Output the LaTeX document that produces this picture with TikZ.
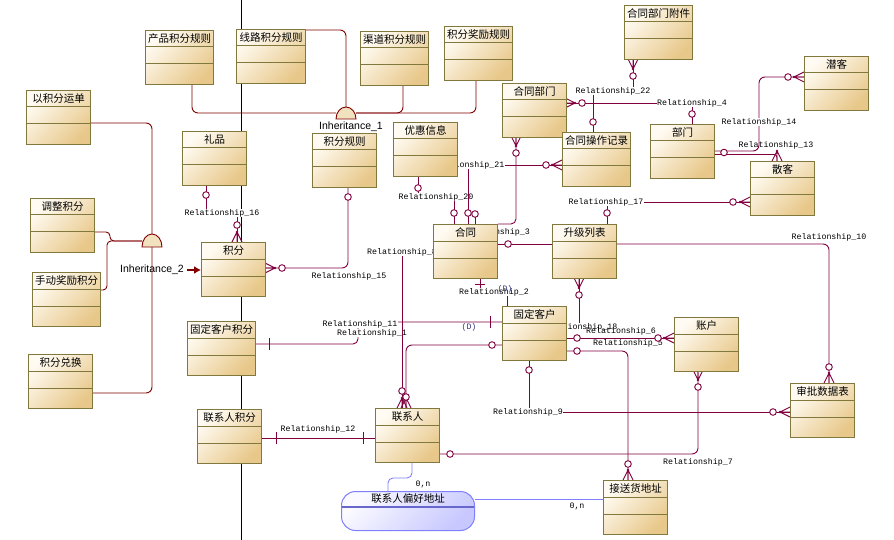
\documentclass[tikz,border=0pt]{standalone}
\usepackage{fontspec}
\setmainfont{Liberation Sans}
\newfontfamily\cjkfont{Noto Sans CJK SC}
\newfontfamily\relfont{Liberation Mono}
\usetikzlibrary{arrows.meta}
\definecolor{relc}{RGB}{128,0,64}
\definecolor{inhc}{RGB}{128,0,0}
\definecolor{boxedge}{RGB}{128,120,60}
\definecolor{boxlight}{RGB}{255,251,242}
\definecolor{boxdark}{RGB}{232,200,138}
\definecolor{blinkc}{RGB}{128,128,255}
\definecolor{pilllight}{RGB}{250,250,255}
\definecolor{pilldark}{RGB}{200,200,255}
\definecolor{dmark}{RGB}{50,50,120}
\pgfdeclarelayer{back}
\pgfdeclarelayer{links}
\pgfsetlayers{back,links,main}
\newcommand{\entitybox}[5][64]{%
  \node[entity, minimum width=#1pt] (#2) at (#3,#4) {};
  \draw[boxedge, line width=1pt] ([yshift=-17pt]#2.north west) -- ([yshift=-17pt]#2.north east);
  \draw[boxedge, line width=1pt] ([yshift=-34pt]#2.north west) -- ([yshift=-34pt]#2.north east);
  \node[entity title] (#2t) at ([yshift=-8.5pt]#2.north) {#5};}
\newcommand{\optc}[2]{\draw[rel, fill=white] (#1,#2) circle (3.3);}
\newcommand{\crowtop}[2]{\draw[rel] (#1,#2-10) -- (#1-5,#2) (#1,#2-10) -- (#1,#2) (#1,#2-10) -- (#1+5,#2); \fill[relc] (#1,#2-10) circle (1.3);}
\newcommand{\crowbottom}[2]{\draw[rel] (#1,#2+10) -- (#1-5,#2) (#1,#2+10) -- (#1,#2) (#1,#2+10) -- (#1+5,#2); \fill[relc] (#1,#2+10) circle (1.3);}
\newcommand{\crowleft}[2]{\draw[rel] (#1-10,#2) -- (#1,#2-5) (#1-10,#2) -- (#1,#2) (#1-10,#2) -- (#1,#2+5); \fill[relc] (#1-10,#2) circle (1.3);}
\newcommand{\crowright}[2]{\draw[rel] (#1+10,#2) -- (#1,#2-5) (#1+10,#2) -- (#1,#2) (#1+10,#2) -- (#1,#2+5); \fill[relc] (#1+10,#2) circle (1.3);}
\newcommand{\tickv}[2]{\draw[rel] (#1,#2-6) -- (#1,#2+6);}
\newcommand{\tickh}[2]{\draw[rel] (#1-5,#2) -- (#1+5,#2);}

\begin{document}
\begin{tikzpicture}[x=1pt,y=-1pt,
  rel/.style={draw=relc, line width=0.9pt},
  inh/.style={draw=inhc, line width=0.9pt},
  blink/.style={draw=blinkc, line width=0.9pt},
  entity/.style={draw=boxedge, line width=1pt, top color=boxlight, bottom color=boxdark, shading angle=45,
    minimum height=54pt, inner sep=0pt, anchor=north west},
  entity title/.style={font=\cjkfont\fontsize{10.5}{12}\selectfont, inner sep=0pt},
  rlabel/.style={font=\relfont\fontsize{8.3}{9}\selectfont, fill=white, inner sep=0.6pt},
  rlabel bare/.style={font=\relfont\fontsize{8.3}{9}\selectfont, inner sep=0.6pt},
  inhlabel/.style={font=\fontsize{10.5}{12}\selectfont, inner sep=0pt},
  dlabel/.style={font=\relfont\fontsize{8.3}{9}\selectfont, text=dmark, inner sep=0pt}]
\useasboundingbox (0,0) rectangle (894,540);

\entitybox[68]{cpgz}{145}{30}{产品积分规则}
\entitybox[69]{xlgz}{236}{29}{线路积分规则}
\entitybox[68]{qdgz}{360}{31}{渠道积分规则}
\entitybox[68]{jlgz}{444}{26}{积分奖励规则}
\entitybox{ydan}{26}{90}{以积分运单}
\entitybox{lipin}{182}{131}{礼品}
\entitybox{jfgz}{312}{133}{积分规则}
\entitybox{yhxx}{393}{122}{优惠信息}
\entitybox{htbm}{502}{83}{合同部门}
\entitybox[68]{htcz}{562}{132}{合同操作记录}
\entitybox[68]{htfj}{624}{5}{合同部门附件}
\entitybox{qianke}{804}{56}{潜客}
\entitybox{bumen}{650}{124}{部门}
\entitybox{sanke}{750}{161}{散客}
\entitybox{tzjf}{30}{198}{调整积分}
\entitybox[68]{sdjf}{32}{272}{手动奖励积分}
\entitybox{jifen}{201}{242}{积分}
\entitybox[68]{gdjf}{187}{321}{固定客户积分}
\entitybox{jfdh}{28}{354}{积分兑换}
\entitybox{hetong}{433}{224}{合同}
\entitybox{sjlb}{552}{224}{升级列表}
\entitybox{gdkh}{502}{306}{固定客户}
\entitybox{zhanghu}{674}{317}{账户}
\entitybox{spsj}{790}{383}{审批数据表}
\entitybox{lxjf}{197}{409}{联系人积分}
\entitybox{lxr}{375}{408}{联系人}
\entitybox{jsdz}{603}{480}{接送货地址}
\node[draw=blinkc, line width=1pt, rounded corners=14pt, top color=pilllight, bottom color=pilldark, shading angle=45,
  minimum width=133pt, minimum height=39pt, inner sep=0pt, anchor=north west] (phdz) at (341,491) {};
\draw[blinkc!80!black, line width=1.2pt] (342,507) -- (474,507);
\node[entity title] (phdzt) at ([yshift=-8pt]phdz.north) {联系人偏好地址};

\begin{pgfonlayer}{back}
\draw[black, line width=1pt] (241,0) -- (241,540);
\end{pgfonlayer}

\begin{pgfonlayer}{links}
\draw[inh, rounded corners=6] (cpgz.south -| 192,0) |- (336,113);
\draw[inh, rounded corners=6] (xlgz.east |- 0,30) -| (346,107);
\draw[inh, rounded corners=6] (qdgz.south -| 403,0) |- (356,113);
\draw[inh, rounded corners=6] (jlgz.south -| 476,0) |- (356,113);
\draw[inh, fill=boxdark!55] (336,119) arc[start angle=180, end angle=360, x radius=10, y radius=12] -- cycle;
\node[inhlabel] (inh1) at (351,127) {Inheritance\_1};

\draw[inh, rounded corners=6] (ydan.east |- 0,123) -| (152,393) -- (jfdh.east |- 0,393);
\draw[inh, rounded corners=4] (tzjf.east |- 0,232) -| (110,241) -- (142,241);
\draw[inh, rounded corners=4] (sdjf.east |- 0,290) -| (107,241) -- (142,241);
\draw[inh, fill=boxdark!55] (142,247) arc[start angle=180, end angle=360, x radius=10, y radius=13] -- cycle;
\node[inhlabel] (inh2) at (152,270) {Inheritance\_2};
\draw[inh, line width=2.5pt, -{Latex[length=7pt,width=8pt]}] (187,270) -- (jifen.west |- 0,270);

\draw[rel] (lipin.south -| 206,0) |- (222,213) -| (jifen.north -| 237,0);
\node[rlabel] (r16) at (222,213) {Relationship\_16};
\draw[rel, rounded corners=6] (jifen.east |- 0,268) -| (jfgz.south -| 348,0);
\node[rlabel bare] (r15) at (349,276) {Relationship\_15};
\draw[rel] (yhxx.south -| 418,0) |- (436,197) -| (hetong.north -| 454,0);
\node[rlabel] (r20) at (436,197) {Relationship\_20};
\draw[rel] (hetong.north -| 468,0) |- (htcz.west |- 0,165);
\node[rlabel] (r21) at (467,165) {Relationship\_21};
\draw[rel, rounded corners=5] (htbm.south -| 516,0) |- (hetong.north east);
\draw[rel] (hetong.north -| 475,0) -- (475,214);
\node[rlabel] (r3) at (495,232) {Relationship\_3};
\draw[rel] (hetong.east |- 0,244) -- (sjlb.west |- 0,244);
\draw[rel] (htfj.south -| 633,0) |- (593,91) -- (htcz.north -| 593,0);
\node[rlabel] (r22) at (613,91) {Relationship\_22};
\draw[rel] (htbm.east |- 0,103) -| (bumen.north -| 692,0);
\node[rlabel] (r4) at (692,103) {Relationship\_4};
\draw[rel, rounded corners=6] (bumen.east |- 0,151) -| (759,77) -- (qianke.west |- 0,77);
\node[rlabel] (r14) at (759,122) {Relationship\_14};
\draw[rel, rounded corners=3] (bumen.east |- 0,154.5) -| (sanke.north -| 777,0);
\node[rlabel bare] (r13) at (776,145) {Relationship\_13};
\draw[rel] (sjlb.north -| 607,0) |- (sanke.west |- 0,202);
\node[rlabel] (r17) at (606,202) {Relationship\_17};
\draw[rel, rounded corners=6] (sjlb.east |- 0,244) -| (spsj.north -| 829,0);
\node[rlabel bare] (r10) at (829,237) {Relationship\_10};
\draw[rel] (sjlb.south -| 579,0) |- (gdkh.east |- 0,327);
\node[rlabel] (r18) at (580,327) {Relationship\_18};
\draw[rel] (gdkh.east |- 0,338) -- (zhanghu.west |- 0,338);
\node[rlabel bare] (r6) at (621,331) {Relationship\_6};
\draw[rel, rounded corners=6] (gdkh.east |- 0,351) -| (jsdz.north -| 628,0);
\node[rlabel bare] (r5) at (628,343) {Relationship\_5};
\draw[rel] (gdkh.south -| 529,0) |- (spsj.west |- 0,412);
\node[rlabel] (r9) at (528,412) {Relationship\_9};
\draw[rel, rounded corners=6] (zhanghu.south -| 698,0) |- (lxr.east |- 0,454);
\node[rlabel bare] (r7) at (698,462) {Relationship\_7};
\draw[rel] (lxjf.east |- 0,438) -- (lxr.west |- 0,438);
\node[rlabel bare] (r12) at (318,429) {Relationship\_12};
\draw[rel] (hetong.south -| 480,0) |- (494,292) -| (gdkh.north -| 507,0);
\node[rlabel] (r2) at (494,292) {Relationship\_2};
\node[dlabel] (d1) at (505,289) {(D)};
\draw[rel, rounded corners=5] (gdjf.east |- 0,344) -| (358,322) -- (gdkh.west |- 0,322);
\node[rlabel] (r11) at (360,324) {Relationship\_11};
\node[rlabel] (r1) at (372,333) {Relationship\_1};
\node[dlabel] (d2) at (469,327) {(D)};
\draw[rel] (hetong.west |- 0,252) -| (lxr.north -| 402,0);
\node[rlabel] (r8) at (402,252) {Relationship\_8};
\draw[rel, rounded corners=6] (lxr.north -| 406,0) |- (gdkh.west |- 0,345);

\draw[blink, rounded corners=5] (lxr.south -| 412,0) |- (388,478) -- (phdz.north -| 388,0);
\draw[blink] (phdz.east |- 0,499) -- (jsdz.west |- 0,499);
\node[rlabel bare] (n1) at (423,484) {0,n};
\node[rlabel bare] (n2) at (577,506) {0,n};

\crowtop{237}{242} \crowright{265}{268} \crowbottom{633}{59} \crowright{565}{103}
\crowbottom{516}{136} \crowleft{562}{165} \crowleft{804}{77} \crowtop{777}{161}
\crowleft{750}{202} \crowbottom{579}{278} \crowleft{674}{338} \crowbottom{698}{370}
\crowtop{829}{383} \crowleft{790}{412} \crowtop{628}{480} \crowtop{402}{408} \crowtop{406}{408}
\optc{206}{195} \optc{237}{225} \optc{282}{268} \optc{348}{197} \optc{418}{188}
\optc{454}{213} \optc{468}{213} \optc{475}{214} \optc{508}{244} \optc{516}{153}
\optc{546}{165} \optc{582}{103} \optc{593}{122} \optc{633}{76} \optc{692}{114}
\optc{724}{152.5} \optc{788}{77} \optc{733}{202} \optc{607}{213} \optc{829}{367}
\optc{579}{295} \optc{577}{338} \optc{577}{351} \optc{658}{338} \optc{698}{387}
\optc{529}{370} \optc{773}{412} \optc{628}{464} \optc{492}{345} \optc{450}{454}
\optc{402}{391} \optc{406}{397}
\tickv{269}{344} \tickv{490}{322} \tickv{276}{438} \tickv{363}{438} \tickh{480}{284}
\end{pgfonlayer}
\end{tikzpicture}
\end{document}
